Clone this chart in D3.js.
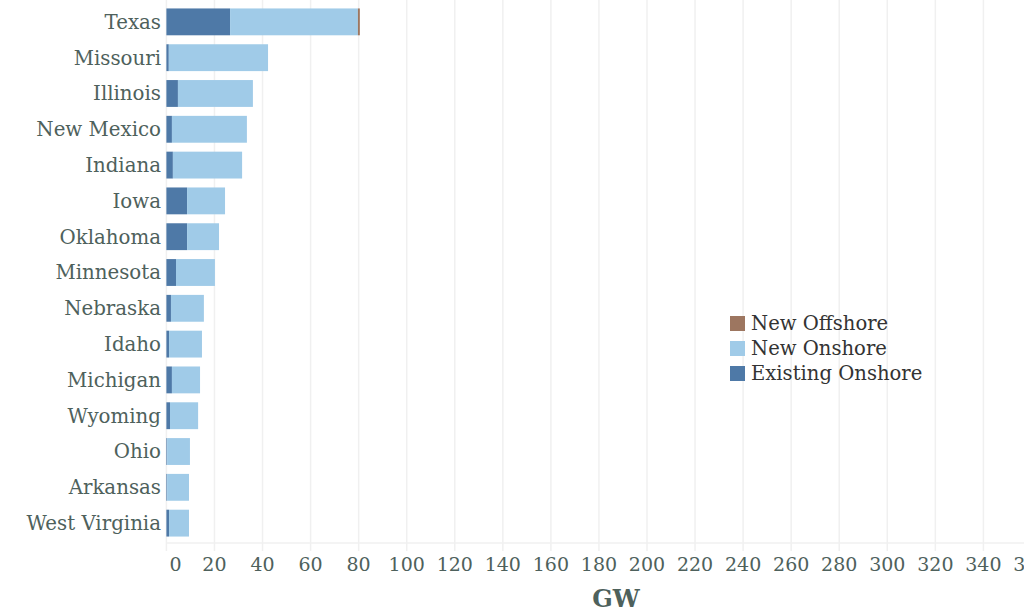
<!DOCTYPE html>
<html>
<head>
<meta charset="utf-8">
<script src="https://cdn.jsdelivr.net/npm/d3@7"></script>
<style>
  body { margin: 0; background: #fff; }
  svg { display: block; }
  .state-label { font-family: "DejaVu Serif", serif; font-size: 19.8px; fill: #4e615c; }
  .tick-label { font-family: "DejaVu Serif", serif; font-size: 19px; fill: #4e615c; }
  .axis-title { font-family: "DejaVu Serif", serif; font-size: 24px; font-weight: bold; fill: #4e615c; }
  .legend-text { font-family: "DejaVu Serif", serif; font-size: 19.6px; fill: #333; }
</style>
</head>
<body>
<div id="chart"></div>
<script>
const states = ['Texas', 'Missouri', 'Illinois', 'New Mexico', 'Indiana', 'Iowa', 'Oklahoma',
  'Minnesota', 'Nebraska', 'Idaho', 'Michigan', 'Wyoming', 'Ohio', 'Arkansas', 'West Virginia'];
const existingOnshore = [26.5, 1.0, 4.8, 2.3, 2.7, 8.6, 8.6, 4.0, 1.9, 1.1, 2.3, 1.5, 0.3, 0.3, 1.1];
const newOnshore = [53.2, 41.3, 31.2, 31.2, 28.8, 15.8, 13.3, 16.2, 13.7, 13.7, 11.7, 11.7, 9.5, 9.1, 8.3];
const newOffshore = [0.8, 0, 0, 0, 0, 0, 0, 0, 0, 0, 0, 0, 0, 0, 0];
const seriesNames = ['Existing Onshore', 'New Onshore', 'New Offshore'];
const seriesColors = ['#4e79a7', '#a0cbe8', '#9d7660'];
const xTicks = d3.range(0, 361, 20);

const width = 1024, height = 613;
const margin = {left: 166.4, top: 2, bottom: 70};

const svg = d3.select('#chart').append('svg')
  .attr('width', width)
  .attr('height', height);

const x = d3.scaleLinear()
  .domain([0, 360])
  .range([margin.left, margin.left + 360 * 2.403]);

const y = d3.scaleBand()
  .domain(states)
  .range([margin.top, height - margin.bottom])
  .paddingInner(0.25)
  .paddingOuter(0.18);

// gridlines
svg.append('g')
  .selectAll('line')
  .data(xTicks)
  .join('line')
  .attr('x1', d => x(d)).attr('x2', d => x(d))
  .attr('y1', 0).attr('y2', height - margin.bottom + 8)
  .attr('stroke', '#f0f0f0')
  .attr('stroke-width', 1.5);

svg.append('line')
  .attr('x1', margin.left).attr('x2', width)
  .attr('y1', height - margin.bottom).attr('y2', height - margin.bottom)
  .attr('stroke', '#f0f0f0')
  .attr('stroke-width', 1.5);

// stacked bars
const rows = states.map((s, i) => ({state: s, vals: [existingOnshore[i], newOnshore[i], newOffshore[i]]}));
const stacked = d3.stack().keys([0, 1, 2]).value((d, k) => d.vals[k])(rows);

svg.append('g')
  .selectAll('g')
  .data(stacked)
  .join('g')
  .attr('fill', (d, i) => seriesColors[i])
  .selectAll('rect')
  .data(d => d)
  .join('rect')
  .attr('x', d => x(d[0]))
  .attr('width', d => x(d[1]) - x(d[0]))
  .attr('y', d => y(d.data.state))
  .attr('height', y.bandwidth());

// state labels
svg.append('g')
  .selectAll('text')
  .data(states)
  .join('text')
  .attr('class', 'state-label')
  .attr('x', 161)
  .attr('y', d => y(d) + y.bandwidth() / 2)
  .attr('dy', '0.35em')
  .attr('text-anchor', 'end')
  .text(d => d);

// tick labels
svg.append('g')
  .selectAll('text')
  .data(xTicks)
  .join('text')
  .attr('class', 'tick-label')
  .attr('x', d => d === 0 ? x(d) + 3 : x(d))
  .attr('y', height - margin.bottom + 28)
  .attr('text-anchor', d => d === 0 ? 'start' : 'middle')
  .text(d => d);

svg.append('text')
  .attr('class', 'axis-title')
  .attr('x', 616)
  .attr('y', 607)
  .attr('text-anchor', 'middle')
  .text('GW');

// legend
const legendOrder = [2, 1, 0];
const legend = svg.append('g')
  .attr('transform', 'translate(730,316)');

legend.selectAll('rect')
  .data(legendOrder)
  .join('rect')
  .attr('x', 0)
  .attr('y', (d, i) => i * 25)
  .attr('width', 15)
  .attr('height', 15)
  .attr('fill', d => seriesColors[d]);

legend.selectAll('text')
  .data(legendOrder)
  .join('text')
  .attr('class', 'legend-text')
  .attr('x', 21)
  .attr('y', (d, i) => i * 25 + 7.5)
  .attr('dy', '0.35em')
  .text(d => seriesNames[d]);
</script>
</body>
</html>
